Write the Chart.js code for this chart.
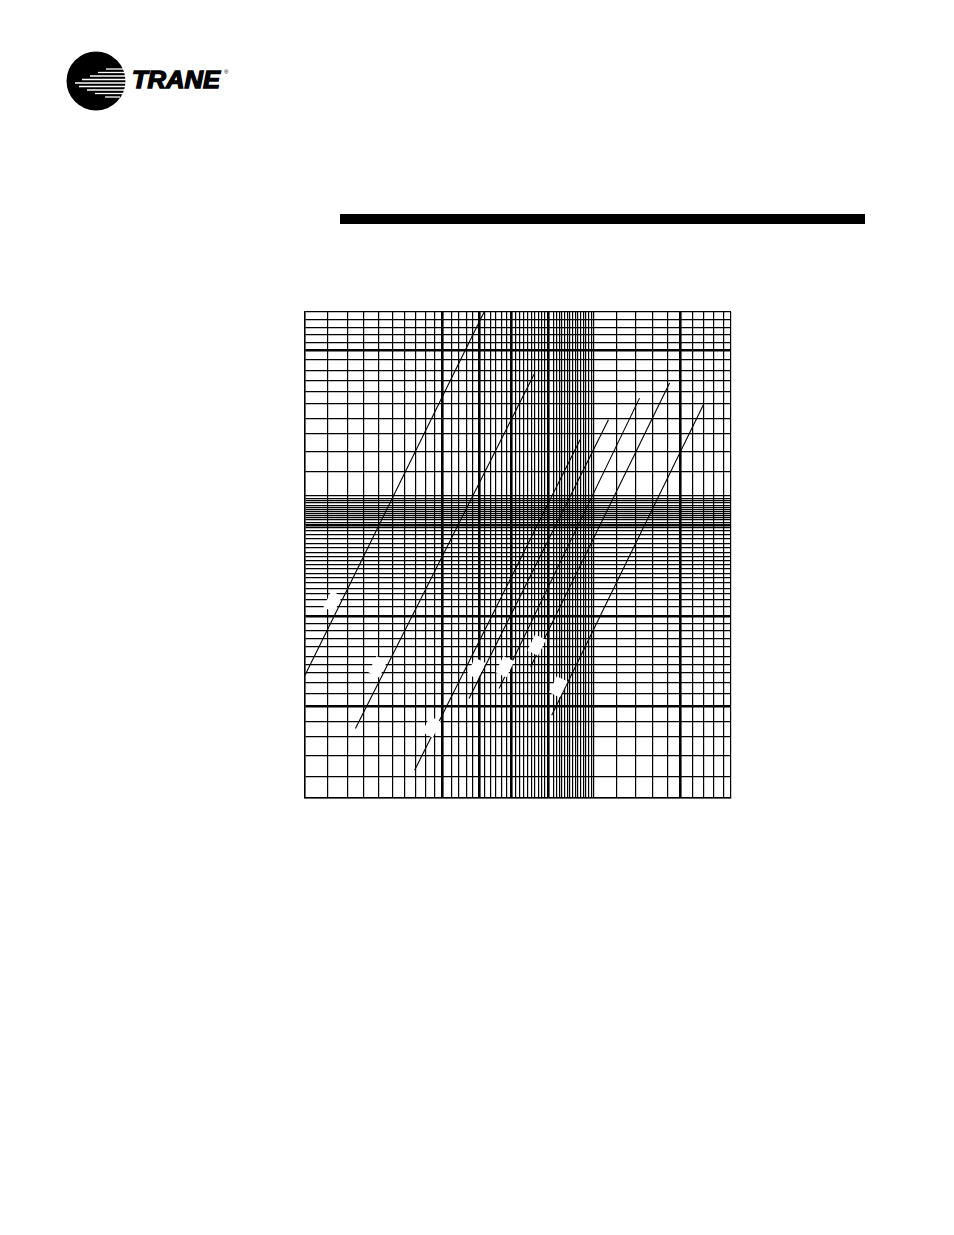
<!DOCTYPE html>
<html>
<head>
<meta charset="utf-8">
<script src="https://cdn.jsdelivr.net/npm/chart.js@4.4.1/dist/chart.umd.min.js"></script>
<style>
  html, body { margin: 0; padding: 0; background: #fff; }
  body { width: 954px; height: 1235px; position: relative; overflow: hidden; font-family: "Liberation Sans", Arial, sans-serif; }
  #logo { position: absolute; left: 60px; top: 46px; }
  #rule { position: absolute; left: 340px; top: 214px; width: 525px; height: 10px; background: #000; }
  #plot { position: absolute; left: 304px; top: 311px; width: 428px; height: 488px; }
</style>
</head>
<body>

<svg id="logo" width="190" height="72" viewBox="0 0 190 72">
  <circle cx="36" cy="35" r="29.5" fill="#000"/>
  <g stroke="#fff" stroke-width="1.3">
    <line x1="46" y1="23" x2="66" y2="23"/>
    <line x1="38" y1="26.5" x2="66" y2="26.5"/>
    <line x1="30" y1="30" x2="66" y2="30"/>
    <line x1="22" y1="33.5" x2="66" y2="33.5"/>
    <line x1="15" y1="37" x2="66" y2="37"/>
    <line x1="19" y1="40.5" x2="66" y2="40.5"/>
    <line x1="27" y1="44" x2="66" y2="44"/>
    <line x1="35" y1="47.5" x2="63" y2="47.5"/>
    <line x1="45" y1="51" x2="60" y2="51"/>
  </g>
  <text x="72" y="42" font-family="Liberation Sans, Arial, sans-serif" font-weight="bold" font-style="italic" font-size="23" fill="#000" stroke="#000" stroke-width="1.3" textLength="88" lengthAdjust="spacingAndGlyphs">TRANE</text>
  <text x="164" y="28" font-family="Liberation Sans, Arial, sans-serif" font-size="6" fill="#000">®</text>
</svg>

<div id="rule"></div>

<div id="plot"><canvas id="chart"></canvas></div>

<script>
// graph-paper rulings (paper units 0..100, scale labels were not printed)
const xGrid = [0, 5.32, 9.89, 13.79, 17.33, 20.48, 23.38, 25.97, 28.32, 30.44, 32.25,
  34.37, 36.16, 37.9, 39.45, 40.8, 42.21, 43.55, 44.8, 46.05, 47.22, 48.4, 49.51, 50.45,
  51.39, 52.26, 53.2, 53.98, 54.76, 55.56, 56.33, 57.16, 58.29, 59.09, 59.7, 60.33, 60.97,
  61.58, 62.22, 62.85, 63.47, 64.1, 64.74, 65.35, 65.98, 66.62, 67.16, 67.7,
  73.05, 77.52, 81.69, 85.12, 88.11, 91.1, 93.6, 95.95, 98.16, 100]
const xHeavy = [32.25, 40.8, 48.4, 57.16, 88.11]

const yGrid = [0, 4.47, 8.8, 12.57, 15.66, 18.89, 21.51, 23.69, 25.75, 27.48, 29.19, 31.11,
  32.84, 34.4, 35.93, 37.43, 39.29, 40.73, 41.97, 43.1, 44.23, 45.26, 46.19, 47.12, 47.94,
  48.76, 49.59, 50.41, 51.44, 52.41, 53.3, 54.12, 54.94, 55.62, 56.18, 56.74, 57.21, 57.68,
  58.1, 58.51, 58.92, 59.33, 59.74, 60.24, 60.71, 61.19, 61.68, 62.22, 67.16, 71.28, 75.07,
  78.16, 81.05, 83.52, 85.85, 87.97, 90.17, 92.09, 93.74, 95.32, 96.83, 98.41, 100]
const yHeavy = [18.89, 37.43, 56.18, 92.09]

// curves, each a straight run on the paper: [x, y] start and end
const curveNames = ['A', 'B', 'C', 'D', 'E', 'G', 'F']
const curveStart = [[0, 25.28], [11.84, 14.3], [25.73, 5.71], [38.51, 20.48], [45.57, 22.54], [52.97, 26.99], [57.91, 17.04]]
const curveEnd   = [[42.04, 100], [53.81, 87.23], [64.57, 73.69], [71.23, 77.81], [78.53, 82.28], [85.59, 85.37], [93.6, 81.05]]
// where each curve's (blanked-out) label sits
const labelAt = [[6.5, 40.38], [17.09, 26.99], [29.66, 14.63], [40.25, 26.66], [46.92, 26.99], [54.38, 31.46], [59.46, 22.87]]

const datasets = curveNames.map((n, i) => ({
  label: n,
  data: [
    { x: curveStart[i][0], y: curveStart[i][1] },
    { x: curveEnd[i][0],   y: curveEnd[i][1] },
  ],
  showLine: true,
  borderColor: '#000',
  borderWidth: 1.1,
  pointRadius: 0,
  fill: false,
}))

// white knock-out patches where the curve labels were printed
const labelPatches = {
  id: 'labelPatches',
  afterDatasetsDraw(chart) {
    const { ctx, scales: { x, y } } = chart
    ctx.save()
    ctx.fillStyle = '#fff'
    labelAt.forEach((p, i) => {
      const px = x.getPixelForValue(p[0])
      const py = y.getPixelForValue(p[1])
      const x0 = x.getPixelForValue(curveStart[i][0]), y0 = y.getPixelForValue(curveStart[i][1])
      const x1 = x.getPixelForValue(curveEnd[i][0]),   y1 = y.getPixelForValue(curveEnd[i][1])
      const ang = Math.atan2(y1 - y0, x1 - x0)
      ctx.save()
      ctx.translate(px, py)
      ctx.rotate(ang)
      ctx.fillRect(-9, -6, 18, 12)
      ctx.restore()
    })
    ctx.restore()
  },
}

new Chart(document.getElementById('chart'), {
  type: 'scatter',
  data: { datasets },
  options: {
    responsive: true,
    maintainAspectRatio: false,
    animation: false,
    devicePixelRatio: 1,
    layout: { padding: 1 },
    plugins: { legend: { display: false }, tooltip: { enabled: false } },
    scales: {
      x: {
        type: 'linear', min: 0, max: 100,
        afterBuildTicks: s => { s.ticks = xGrid.map(v => ({ value: v })) },
        ticks: { display: false },
        border: { display: true, color: '#000', width: 1.5 },
        grid: {
          drawTicks: false,
          color: '#000',
          lineWidth: c => xHeavy.includes(c.tick && c.tick.value) ? 2.6 : 1.2,
        },
      },
      y: {
        type: 'linear', min: 0, max: 100,
        afterBuildTicks: s => { s.ticks = yGrid.map(v => ({ value: v })) },
        ticks: { display: false },
        border: { display: true, color: '#000', width: 1.5 },
        grid: {
          drawTicks: false,
          color: '#000',
          lineWidth: c => yHeavy.includes(c.tick && c.tick.value) ? 2.6 : 1.2,
        },
      },
    },
  },
  plugins: [labelPatches],
})
</script>
</body>
</html>
